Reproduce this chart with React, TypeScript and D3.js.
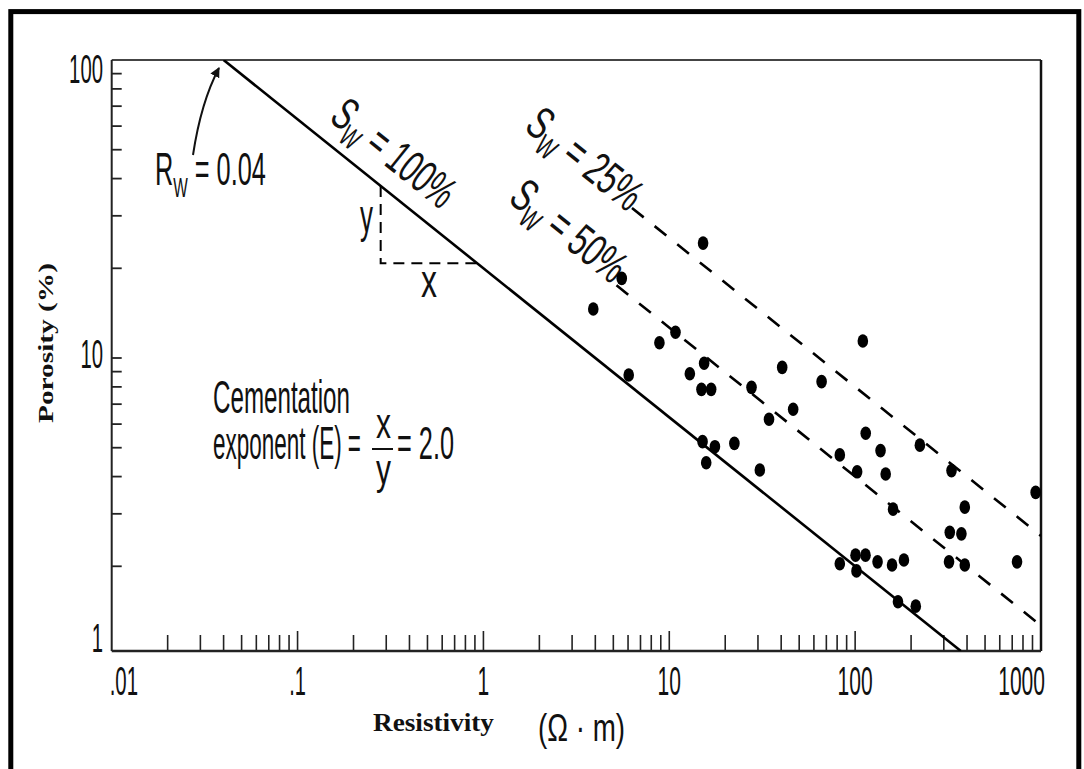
import React from 'react';
import * as d3 from 'd3';

// ---------- data ----------
const xTickValues = [0.01, 0.1, 1, 10, 100, 1000];
const xTickLabels = ['.01', '.1', '1', '10', '100', '1000'];
const yTickValues = [100, 10, 1];
const yTickLabels = ['100', '10', '1'];
const yMinorTicks = [90, 80, 70, 60, 50, 40, 30, 20, 10, 9, 8, 7, 6, 5, 4, 3, 2];

const rw = 0.04; // ohm-m
const swLevels = [1.0, 0.5, 0.25];
const swLabels = ['100%', '50%', '25%'];
const swLineStartR = [0.04, 5.2, 6.3];

// slope triangle (resistivity at the vertical leg, porosity of horizontal leg)
const triangleR = 0.28;
const trianglePhi = 20.8;

const resistivity = [15.2, 5.55, 3.9, 10.8, 8.85, 6.05, 12.9, 15.4, 14.9, 16.8, 27.7, 40.5, 66, 110, 46.4,
  34.4, 15.1, 17.6, 22.4, 15.8, 30.7, 114, 137, 82.7, 102.5, 146, 223, 160, 330, 936, 389, 323, 373, 82.7,
  100.5, 101.7, 113.7, 132, 158, 183, 320, 389, 743, 170, 212];
const porosity = [24.3, 18.5, 14.6, 12.2, 11.25, 8.77, 8.85, 9.6, 7.85, 7.85, 7.97, 9.3, 8.33, 11.4, 6.73,
  6.23, 5.24, 5.04, 5.17, 4.45, 4.21, 5.59, 4.89, 4.73, 4.15, 4.08, 5.1, 3.11, 4.19, 3.54, 3.16, 2.6, 2.57, 2.04,
  2.18, 1.93, 2.18, 2.07, 2.02, 2.1, 2.07, 2.02, 2.07, 1.52, 1.47];

// ---------- layout ----------
const W = 1084, H = 769;
const left = 111.7, right = 1041, top = 60, bottom = 651;
const decadeY = 298;
const yMinVal = Math.pow(10, 2 - (bottom - top) / decadeY);

const x = d3.scaleLog().domain([0.01, 1000]).range([left, right]);
const y = d3.scaleLog().domain([yMinVal, 100]).range([bottom, top]);

const SANS = '"Liberation Sans", Arial, sans-serif';
const SERIF = '"Liberation Serif", "Times New Roman", serif';
const INK = '#111';

// phi (%) for given R and Sw, Archie a=1, m=n=2
const phiOf = (R: number, sw: number) => 100 * Math.sqrt(rw / (R * sw * sw));
const rOf = (phi: number, sw: number) => rw / ((phi / 100) * (phi / 100) * sw * sw);

function CT(props: any) {
  const { x: px, y: py, size, len, anchor, children, weight, family } = props;
  return (
    <text x={px} y={py} fontSize={size} textLength={len} lengthAdjust="spacingAndGlyphs"
      textAnchor={anchor || 'start'} fontFamily={family || SANS} fontWeight={weight || 'normal'} fill={INK}>
      {children}
    </text>
  );
}

export default function App() {
  const line = d3.line<[number, number]>().x(d => x(d[0])).y(d => y(d[1]));

  // x ticks
  const xMinor: number[] = [];
  for (let d = -2; d < 3; d++) for (let k = 2; k <= 9; k++) xMinor.push(k * Math.pow(10, d));
  const xMajor = xTickValues.slice(1, -1);

  const swPaths = swLevels.map((sw, i) => {
    const r0 = swLineStartR[i];
    let r1 = 1000;
    if (phiOf(1000, sw) < yMinVal) r1 = rOf(yMinVal, sw);
    return line([[r0, phiOf(r0, sw)], [r1, phiOf(r1, sw)]]) as string;
  });

  const triTopPhi = phiOf(triangleR, 1);
  const triRightR = rOf(trianglePhi, 1);

  const angle = (Math.atan2(y(1) - y(10), x(400) - x(4)) * 180) / Math.PI;
  const swOrigins: [number, number][] = [[328, 120], [507, 201], [523, 129]];
  const swScale = [0.63, 0.66, 0.66];

  return (
    <svg width={W} height={H} style={{ position: 'absolute', left: 0, top: 0, background: '#fff' }}>
      <defs>
        <marker id="arrow" viewBox="0 0 10 10" refX="9" refY="5" markerWidth="5" markerHeight="5" orient="auto">
          <path d="M0,0 L10,5 L0,10 z" fill={INK} />
        </marker>
        <clipPath id="plotClip">
          <rect x={left} y={top} width={right - left} height={bottom - top} />
        </clipPath>
      </defs>
      <rect x={0} y={0} width={W} height={H} fill="#fff" />
      {/* outer frame */}
      <rect x={10.8} y={11.6} width={1068} height={800} fill="none" stroke="#000" strokeWidth={5} />

      {/* plot frame */}
      <line x1={left} x2={right} y1={top} y2={top} stroke="#444" strokeWidth={2} />
      <line x1={right} x2={right} y1={top} y2={bottom} stroke="#111" strokeWidth={2.5} />
      <line x1={left} x2={left} y1={top} y2={bottom} stroke="#222" strokeWidth={2} />
      <line x1={left} x2={right} y1={bottom} y2={bottom} stroke="#222" strokeWidth={2.5} />

      {/* x ticks */}
      {xMinor.map((v, i) => (
        <line key={'xm' + i} x1={x(v)} x2={x(v)} y1={bottom} y2={bottom - 16} stroke="#222" strokeWidth={1.6} />
      ))}
      {xMajor.map((v, i) => (
        <line key={'xM' + i} x1={x(v)} x2={x(v)} y1={bottom} y2={bottom - 20} stroke="#222" strokeWidth={1.6} />
      ))}
      {/* y ticks */}
      {yMinorTicks.map((v, i) => (
        <line key={'ym' + i} x1={left} x2={left + 10} y1={y(v)} y2={y(v)} stroke="#222" strokeWidth={1.8} />
      ))}

      {/* x tick labels */}
      {xTickValues.map((v, i) => {
        const first = i === 0, last = i === xTickValues.length - 1;
        const px = first ? x(v) - 2 : last ? x(v) + 4 : x(v);
        const anchor = first ? 'start' : last ? 'end' : 'middle';
        const len = xTickLabels[i].replace('.', '').length * 11.7 + (xTickLabels[i].includes('.') ? 5 : 0);
        return <CT key={'xl' + i} x={px} y={695} size={41} len={len} anchor={anchor}>{xTickLabels[i]}</CT>;
      })}
      {/* y tick labels */}
      {yTickValues.map((v, i) => {
        const n = yTickLabels[i].length;
        const base = i === 0 ? y(v) + 23 : i === yTickValues.length - 1 ? bottom + 1 : y(v) + 10;
        return <CT key={'yl' + i} x={103} y={base} size={41} len={n * 11.3} anchor="end">{yTickLabels[i]}</CT>;
      })}

      {/* axis titles */}
      <CT x={373} y={731} size={25} len={121} weight="bold" family={SERIF}>Resistivity</CT>
      <CT x={538} y={741} size={39} len={87}>(Ω · m)</CT>
      <g transform="translate(53,343) rotate(-90)">
        <text x={0} y={0} fontSize={22} fontWeight="bold" fontFamily={SERIF} textAnchor="middle"
          textLength={160} lengthAdjust="spacingAndGlyphs" fill={INK}>Porosity (%)</text>
      </g>

      {/* Sw lines */}
      <g clipPath="url(#plotClip)">
        {swPaths.map((d, i) => (
          <path key={'sw' + i} d={d} fill="none" stroke="#000" strokeWidth={2.6}
            strokeDasharray={i === 0 ? undefined : '15 14'} />
        ))}
      </g>

      {/* slope triangle */}
      <path d={`M${x(triangleR)},${y(triTopPhi)} L${x(triangleR)},${y(trianglePhi)} L${x(triRightR)},${y(trianglePhi)}`}
        fill="none" stroke="#000" strokeWidth={2} strokeDasharray="11 7" />
      <CT x={360} y={232} size={46} len={13}>y</CT>
      <CT x={421} y={297} size={46} len={16}>x</CT>

      {/* Rw label and arrow */}
      <g transform="translate(155,185) scale(0.55,1)">
        <text x={0} y={0} fontSize={46} fontFamily={SANS} fill={INK}>
          R<tspan dy={12} fontSize={28}>W</tspan><tspan dy={-12}> = 0.04</tspan>
        </text>
      </g>
      <path d="M193,155 Q201,102 219,68" fill="none" stroke={INK} strokeWidth={2} markerEnd="url(#arrow)" />

      {/* Sw labels */}
      {swLevels.map((sw, i) => (
        <g key={'swl' + i}
          transform={`translate(${swOrigins[i][0]},${swOrigins[i][1]}) rotate(${angle}) scale(${swScale[i]},1)`}>
          <text x={0} y={0} fontSize={46} fontFamily={SANS} fill={INK}>
            S<tspan dy={10} fontSize={30}>W</tspan><tspan dy={-10}> = {swLabels[i]}</tspan>
          </text>
        </g>
      ))}

      {/* cementation annotation */}
      <CT x={213} y={413} size={46} len={137}>Cementation</CT>
      <CT x={213} y={459} size={46} len={148}>exponent (E) =</CT>
      <CT x={376} y={438} size={42} len={15}>x</CT>
      <line x1={372} x2={393} y1={449} y2={449} stroke={INK} strokeWidth={2} />
      <CT x={376} y={484} size={42} len={15}>y</CT>
      <CT x={397} y={459} size={46} len={57}>= 2.0</CT>

      {/* data points */}
      {resistivity.map((r, i) => (
        <ellipse key={'p' + i} cx={x(r)} cy={y(porosity[i])} rx={5.3} ry={6.8} fill="#000" />
      ))}
    </svg>
  );
}
